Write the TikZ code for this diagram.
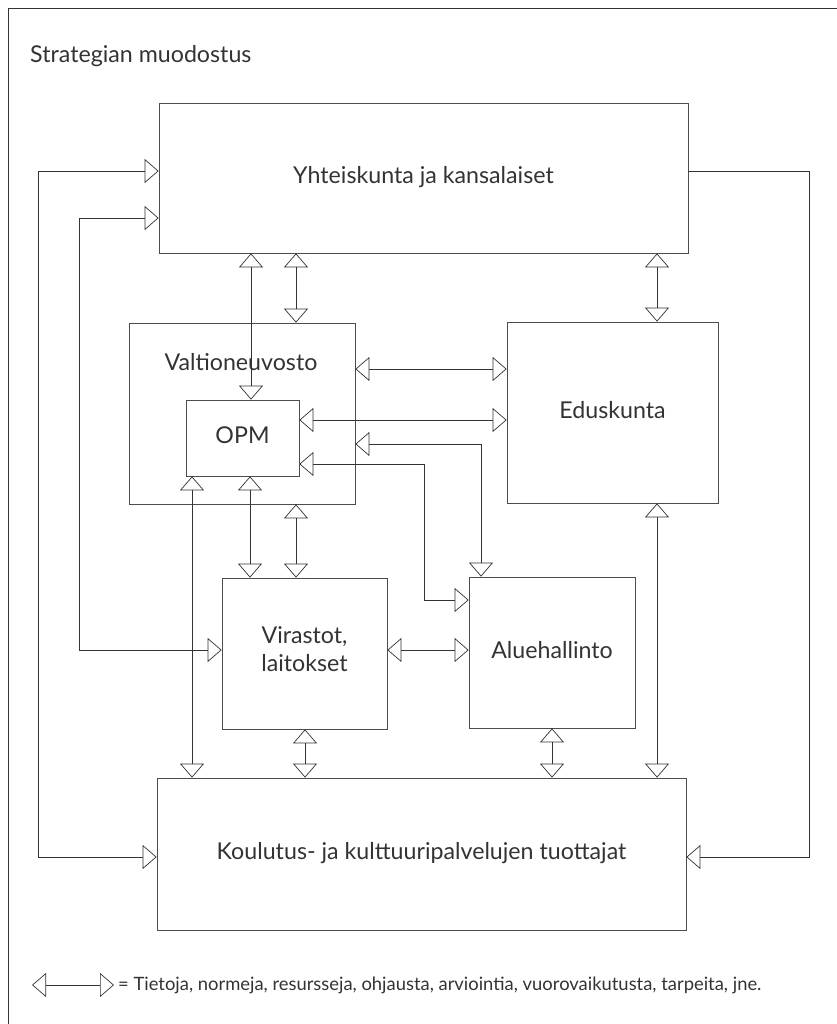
\documentclass[tikz,border=0pt]{standalone}
\usepackage{fontspec}
\setmainfont{Lato}
\usetikzlibrary{arrows.meta}

\tikzset{
    tri/.tip={Triangle[open, length=4.2mm, width=7.2mm]},
    box/.style={draw=black!70, line width=0.6pt, inner sep=0pt, text=black!80, align=center,
        text height=12pt, text depth=2pt, font=\fontsize{19.8}{24.6}\selectfont},
    txt/.style={inner sep=0pt, text=black!80, font=\fontsize{19.8}{24.6}\selectfont},
    link/.style={draw=black!80, line width=0.6pt, tri-tri},
    onelink/.style={draw=black!80, line width=0.6pt, -tri},
}

\begin{document}
\begin{tikzpicture}[x=0.3mm, y=-0.3mm]
            \useasboundingbox (0,0) rectangle (837,1024);
            \draw[draw=black!80, line width=0.6pt] (8,1030) -- (8,8) -- (840,8);

            \node[txt, anchor=base west] (title) at (30,62) {Strategian muodostus};

            \node[box, minimum width=158.7mm, minimum height=45mm] (yht) at (423.5,178) {Yhteiskunta ja kansalaiset};
            \node[box, minimum width=67.8mm, minimum height=54.3mm] (val) at (242,413.5) {};
            \node[txt, anchor=base] (valtxt) at (241,370) {Valtioneuvosto};
            \node[box, minimum width=33.9mm, minimum height=22.8mm] (opm) at (242.5,438) {OPM};
            \node[box, minimum width=63.3mm, minimum height=54.3mm] (edu) at (612.5,412.5) {Eduskunta};
            \node[box, minimum width=49.5mm, minimum height=45.3mm, text height=33.4pt] (vir) at (304.5,653.5) {Virastot,\\laitokset};
            \node[box, minimum width=49.8mm, minimum height=45.3mm] (alu) at (552,652.5) {Aluehallinto};
            \node[box, minimum width=158.7mm, minimum height=45.6mm] (kou) at (421.5,854) {Koulutus- ja kulttuuripalvelujen tuottajat};

            \draw[link] (kou.west |- 0,857) -| (38,171) -- (yht.west |- 0,171);
            \draw[link] (vir.west |- 0,650) -| (79,218) -- (yht.west |- 0,218);
            \draw[onelink] (yht.east |- 0,171) -| (809,857) -- (kou.east |- 0,857);

            \draw[link] (yht.south -| 251,0) -- (opm.north -| 251,0);
            \draw[link] (yht.south -| 296,0) -- (val.north -| 296,0);
            \draw[link] (yht.south -| 657,0) -- (edu.north -| 657,0);

            \draw[link] (val.east |- 0,369) -- (edu.west |- 0,369);
            \draw[link] (opm.east |- 0,420) -- (edu.west |- 0,420);
            \draw[link] (val.east |- 0,444) -| (alu.north -| 481,0);
            \draw[link] (opm.east |- 0,464) -| (424,600) -- (alu.west |- 0,600);

            \draw[link] (opm.south -| 250,0) -- (vir.north -| 250,0);
            \draw[link] (val.south -| 296,0) -- (vir.north -| 296,0);
            \draw[link] (opm.south -| 192,0) -- (kou.north -| 192,0);
            \draw[link] (vir.east |- 0,650) -- (alu.west |- 0,650);

            \draw[link] (vir.south -| 305,0) -- (kou.north -| 305,0);
            \draw[link] (alu.south -| 552,0) -- (kou.north -| 552,0);
            \draw[link] (edu.south -| 657,0) -- (kou.north -| 657,0);

            \coordinate (keyl) at (32,985);
            \coordinate (keyr) at (114,985);
            \draw[link] (keyl) -- (keyr);
            \node[txt, anchor=base west, font=\fontsize{15.7}{18}\selectfont] (key) at (118,990)
                {= Tietoja, normeja, resursseja, ohjausta, arviointia, vuorovaikutusta, tarpeita, jne.};
\end{tikzpicture}
\end{document}
